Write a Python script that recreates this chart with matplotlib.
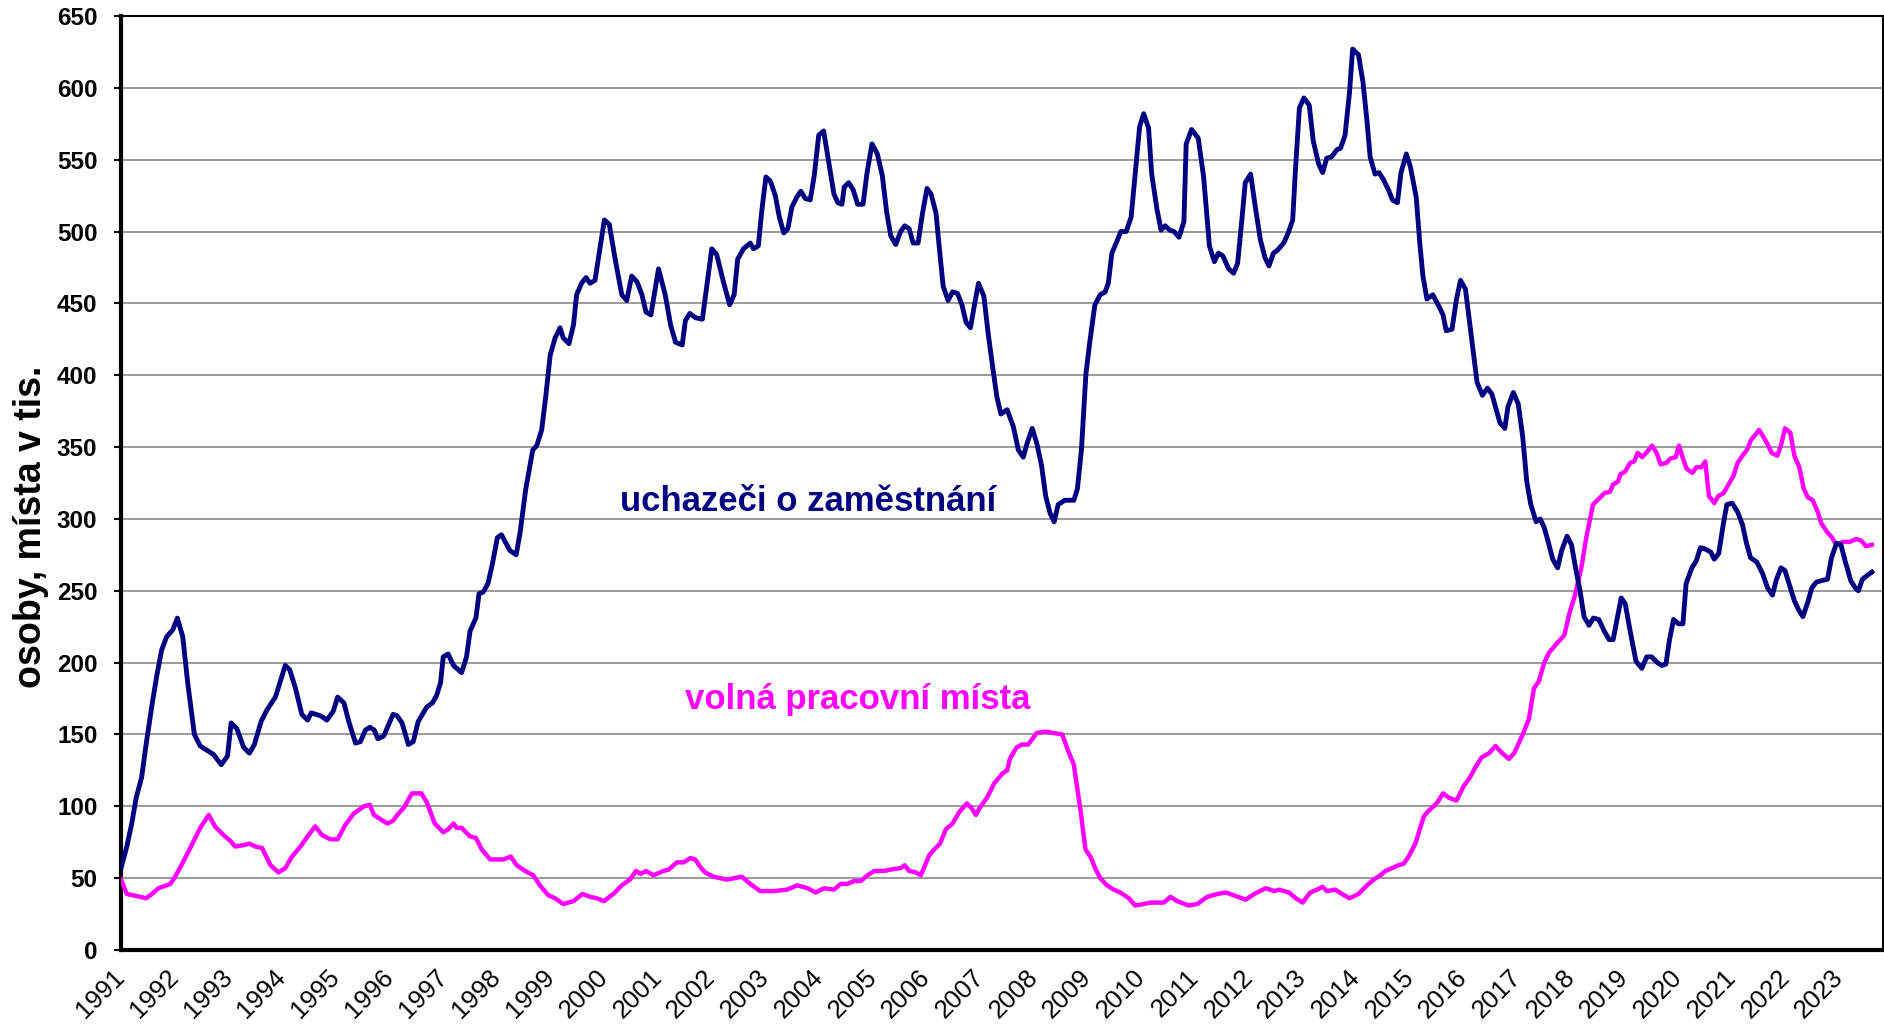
import matplotlib
matplotlib.use("Agg")
from matplotlib import pyplot as plt

# x = months since Jan 1991, values in thousands
ucha_m = [0, 1.3, 2.4, 3.4, 4.6, 5.7, 6.9, 8, 9.1, 10.2, 11.6, 12.6, 13.8, 14.9, 16.4, 17.7, 19.2, 20.7, 22.4, 23.8,
          24.6, 25.9, 27.4, 28.7, 29.8, 31.3, 32.6, 34.5, 36.7, 37.7, 39, 40.4, 41.7, 42.5, 44.6, 46, 47.4, 48.4,
          49.8, 50.9, 52.4, 53.5, 54.6, 55.6, 56.6, 57.4, 58.7, 60.8, 61.7, 62.8, 64.2, 65.3, 66.4, 68.3, 69.6,
          70.5, 71.4, 72, 73.1, 74.3, 76.1, 77.2, 78, 79.3, 80, 80.9, 82, 83, 84.1, 85, 86.9, 88.3, 89.2, 90.4,
          92, 92.9, 94, 94.9, 95.9, 97, 98.1, 98.8, 100.1, 101.1, 101.8, 102.9, 103.9, 104.8, 105.9, 107, 108,
          109.1, 110.4, 111.9, 113, 114.1, 115.3, 116.4, 117.3, 118.4, 120.1, 121.6, 122.8, 123.9, 125.4, 126.1,
          127.1, 128.4, 129.9, 132, 133.1, 134.6, 136, 137, 137.8, 139.1, 140.6, 141.3, 142.4, 143.2, 144.1,
          145.1, 146.2, 147.1, 148.1, 149, 149.9, 151, 151.9, 152.9, 154, 154.9, 155.9, 157, 158.1, 159.3, 160.2,
          161.1, 161.6, 162.6, 163.6, 164.6, 165.8, 166.7, 167.8, 169, 170.1, 171.1, 172, 173.1, 174.2, 175.1,
          176.1, 177, 178.1, 179.1, 180.1, 181, 182.1, 182.8, 183.7, 184.8, 185.8, 186.9, 187.9, 188.8, 189.8,
          190.7, 191.6, 192.8, 193.8, 194.8, 195.7, 196.6, 198, 199.4, 200.5, 201.6, 202.5, 203.6, 204.6, 205.7,
          206.6, 207.6, 208.5, 209.4, 210.9, 212, 212.9, 213.7, 214.6, 215.6, 216.5, 217.6, 218.8, 219.9, 220.6,
          221.4, 222.5, 223.4, 224.6, 225.7, 226.6, 227.6, 228.5, 229.6, 230.3, 231.5, 232.4, 233.3, 234.3, 235.3,
          236.4, 237.5, 238, 239.2, 240.7, 241.9, 243.2, 244.3, 245.2, 246.2, 247.5, 248.6, 249.5, 250.5, 251.2,
          252.4, 253.5, 254.6, 255.6, 256.5, 257.5, 258.4, 259.8, 260.8, 261.8, 262.4, 263.3, 264.3, 265.5, 266.4,
          267.6, 268.5, 269.4, 270.5, 271.7, 272.5, 273.5, 274.5, 275.2, 276.5, 277.5, 278.4, 279.1, 280.2, 281.1,
          282.1, 283.2, 284.1, 285.2, 286, 287.2, 288.1, 289.4, 290.2, 290.9, 291.8, 293.1, 294.3, 295.4, 296.1,
          297.4, 298.4, 299.3, 300.4, 301.4, 302.3, 303, 304.2, 305.3, 306.3, 307.3, 308.1, 309.2, 309.9, 311.1,
          312.2, 313.2, 314.1, 315, 316.2, 317.1, 318, 318.9, 319.9, 321, 321.9, 323.1, 324.1, 325, 326, 326.9,
          328, 329, 330.2, 331.4, 332.5, 333.4, 334.4, 335.2, 336.1, 337.2, 338.5, 339.8, 340.9, 342, 343.3,
          344.3, 345.2, 346, 346.9, 348, 349, 349.7, 351, 352, 352.9, 354, 355.2, 356, 357, 358, 358.8, 360,
          361.2, 362.3, 363.2, 364.1, 365.5, 366.8, 367.9, 369, 369.8, 370.9, 371.8, 372.8, 373.9, 374.8, 375.8,
          376.9, 377.8, 378.8, 379.9, 381.3, 382.2, 383.3, 384.3, 385.3, 386.5, 387.5, 388.2, 389.1, 390.3, 391.2]
ucha_v = [57, 72, 88, 106, 120, 145, 170, 191, 209, 218, 223, 231, 218, 186, 150, 142, 139, 136, 129, 135,
          158, 154, 141, 137, 143, 159, 167, 176, 198, 195, 182, 164, 160, 165, 163, 160, 166, 176,
          172, 159, 144, 145, 153, 155, 153, 147, 149, 164, 163, 158, 143, 145, 159, 169, 172,
          177, 186, 204, 206, 198, 193, 204, 222, 231, 248, 249, 255, 269, 287, 289, 278, 275, 291, 320,
          348, 351, 362, 385, 414, 426, 433, 426, 422, 435, 456, 464, 468, 464, 466, 488, 508,
          505, 481, 456, 452, 469, 465, 456, 444, 442, 474, 456, 435, 423, 421, 438,
          443, 440, 439, 488, 484, 465, 449, 456, 481, 488, 492, 488, 490, 515, 538,
          535, 525, 510, 499, 502, 517, 524, 528, 523, 522, 539, 567, 570, 549, 526, 520,
          519, 531, 534, 529, 519, 519, 541, 561, 554, 539, 513, 497, 491, 500, 504,
          502, 492, 492, 513, 530, 526, 513, 490, 462, 452, 458, 457, 449, 437, 433,
          449, 464, 455, 428, 405, 385, 373, 376, 364, 348, 343, 353, 363, 353, 337,
          316, 304, 298, 310, 313, 313, 313, 321, 348, 401, 424, 449, 456, 458, 464,
          485, 493, 500, 500, 510, 540, 573, 582, 572, 540, 515, 501, 504, 501, 500,
          496, 507, 561, 571, 565, 538, 490, 479, 485, 483, 474, 471, 478, 510, 534,
          540, 516, 494, 482, 476, 485, 487, 492, 499, 508, 542, 586, 593, 588, 563,
          547, 541, 551, 552, 557, 558, 567, 597, 627, 623, 604, 577, 552, 540, 541,
          536, 529, 522, 520, 541, 554, 545, 524, 492, 469, 453, 456, 449, 442, 431,
          432, 453, 466, 460, 435, 412, 395, 386, 391, 387, 376, 367, 363, 378, 388,
          380, 357, 326, 310, 298, 300, 294, 284, 272, 266, 278, 288, 282, 266, 250, 232,
          226, 231, 230, 222, 216, 216, 232, 245, 241, 222, 201, 196, 204, 204, 200,
          198, 199, 216, 230, 227, 227, 255, 266, 271, 280, 279, 277, 272, 276, 296, 310, 311,
          305, 296, 283, 273, 270, 262, 252, 247, 257, 266, 264, 254, 243, 237, 232,
          242, 252, 256, 257, 258, 273, 283, 282, 270, 257, 252, 250, 258, 261, 263]

volna_m = [0, 1.3, 2.8, 4.3, 5.6, 6.9, 8.4, 11, 12.1, 14, 15.8, 17.7, 19.6, 21, 22.9, 24.4, 25.5, 27.4, 28.7,
           30, 31.5, 33.4, 35.2, 36.7, 38.2, 40.1, 41.9, 43.4, 44.9, 46.8, 48.4, 50.1, 52, 54.3, 55.6, 56.5, 58,
           59.5, 60.8, 62, 63.2, 65, 67.1, 68.3, 70.1, 72, 73.1, 74.3, 75, 76.1, 78, 79.3, 80.6, 82.5, 85.4, 87.1,
           88.4, 90.3, 92.1, 93.6, 95.5, 97, 98.8, 101.1, 103.1, 104.8, 106.3, 107.9, 110, 111.9, 113.7, 115.1,
           116.1, 117.3, 119, 121.2, 122.4, 124.2, 125.7, 127.2, 128.3, 129.4, 130.5, 132.4, 135.4, 138.7, 140.6,
           142.8, 145.9, 148.8, 151.1, 153.4, 155.2, 157.1, 159.3, 160.8, 162.3, 163.8, 165.3, 166.8, 168.3, 170.5,
           172, 174.2, 175.1, 176.1, 177.6, 178.7, 180.6, 181.7, 183, 184.3, 185.8, 187.3, 189, 190, 191, 192.1,
           193.5, 195.1, 197, 198, 198.6, 200.1, 201.3, 202.7, 204.6, 206.5, 208.4, 210.3, 211.7, 212.9, 214.4,
           215.5, 216.6, 217.8, 218.8, 220.3, 221.8, 223.3, 225.2, 226.6, 228.5, 230, 233, 234.5, 236, 238.5,
           240.5, 242.7, 245, 246.9, 248.7, 251.3, 253.2, 255.8, 257.7, 258.8, 261, 262.5, 264, 265.7, 267.2,
           268.5, 269.4, 271.3, 272.8, 274.5, 276.5, 278.4, 279.9, 281.4, 282.5, 284, 285.4, 286.6, 287.7, 289.2,
           291.1, 292.2, 293.3, 294.2, 295.4, 296.7, 298.4, 300, 301.2, 302.6, 304, 305.7, 307.1, 308.6, 310.1,
           311.3, 313.2, 314.6, 315.7, 316.8, 318, 319.1, 321, 322.5, 323.6, 324.8, 326.3, 327.4, 328.9, 330.2,
           331.5, 332.7, 333.4, 334.5, 335, 336.1, 337.2, 338.1, 338.9, 339.9, 340.8, 342.1, 343.1, 344, 345.3,
           346.2, 347.4, 348.1, 348.8, 349.8, 351.1, 352, 353.1, 354, 354.8, 356, 356.9, 358.1, 359, 360.3, 361.2,
           362.3, 363.3, 364.2, 365.3, 366, 367, 367.9, 368.8, 370.1, 370.9, 371.8, 373, 373.9, 375, 376, 376.9,
           378, 379.1, 379.9, 381.2, 382.3, 383.3, 384.7, 386.2, 387.7, 388.8, 389.9, 391.2]
volna_v = [49, 39, 38, 37, 36, 39, 43, 46, 51, 62, 73, 85, 94, 86, 80, 76, 72, 73, 74,
           72, 71, 59, 54, 57, 65, 72, 80, 86, 80, 77, 77, 87, 95, 100, 101, 94, 91,
           88, 90, 95, 99, 109, 109, 103, 88, 82, 84, 88, 85, 85, 79, 78, 70, 63, 63, 65,
           59, 55, 52, 45, 38, 36, 32, 34, 39, 37, 36, 34, 39, 45, 49, 55,
           53, 55, 52, 55, 56, 61, 61, 64, 63, 58, 54, 51, 49, 51, 46,
           41, 41, 42, 45, 43, 40, 43, 42, 46, 46, 48, 48, 52, 55, 55,
           56, 57, 59, 55, 54, 52, 66, 70, 74, 84, 88, 96, 102, 99, 94, 100,
           106, 116, 123, 125, 133, 141, 143, 143, 151, 152, 151, 150, 138, 129, 97,
           70, 65, 56, 50, 45, 42, 40, 36, 31, 32, 33, 33, 37, 34, 31,
           32, 37, 39, 40, 38, 35, 39, 43, 41, 42, 40, 36, 33, 40, 42,
           44, 41, 42, 39, 36, 39, 45, 49, 52, 55, 57, 59, 60, 65, 74,
           93, 97, 100, 103, 109, 106, 104, 114, 119, 127, 134, 137, 142, 137, 133,
           137, 150, 161, 182, 187, 200, 207, 214, 219, 234, 246, 266, 287, 310, 314,
           318, 319, 324, 326, 331, 333, 339, 340, 346, 343, 346, 351, 346, 338, 339,
           342, 343, 351, 344, 335, 332, 336, 336, 340, 316, 311, 316, 318, 323, 330, 339,
           344, 348, 355, 359, 362, 357, 352, 346, 344, 351, 363, 360, 344, 336, 321, 315,
           313, 305, 297, 291, 287, 282, 284, 284, 286, 285, 281, 282]

years = list(range(1991, 2024))
y_ticks = list(range(0, 651, 50))

plt.rcParams['font.family'] = ['Liberation Sans', 'DejaVu Sans']

fig = plt.figure(figsize=(18.84, 10.27), dpi=100)
ax = fig.add_axes([121 / 1884, 1 - 950 / 1027, 1762 / 1884, 934 / 1027])

ax.plot(volna_m, volna_v, color='#ff00ff', lw=3.2, solid_joinstyle='round', zorder=3)
ax.plot(ucha_m, ucha_v, color='#000080', lw=3.5, solid_joinstyle='round', zorder=4)

ax.set_xlim(0, 393.7)
ax.set_ylim(0, 650)

# grid and axes
ax.set_yticks(y_ticks)
ax.set_yticklabels([str(v) for v in y_ticks], fontsize=17.5, fontweight='bold')
ax.yaxis.grid(True, color='#808080', lw=1.1)
ax.set_axisbelow(True)
ax.tick_params(axis='y', length=5, width=1.5, pad=12)

# year labels, rotated like the Excel original
ax.set_xticks([12 * (y - 1991) for y in years])
ax.set_xticklabels([str(y) for y in years], fontsize=18.5, rotation=45,
                   ha='right', va='center', rotation_mode='anchor')
ax.tick_params(axis='x', length=0, pad=17)

for side in ['left', 'bottom']:
    ax.spines[side].set_linewidth(3)
for side in ['top', 'right']:
    ax.spines[side].set_linewidth(1.5)

# axis title sits a bit below the axis centre, like in the original
fig.text(31 / 1884, 1 - 527 / 1027, 'osoby, místa v tis.', rotation=90,
         fontsize=27, fontweight='bold', ha='center', va='center')

# series labels
ax.text(111.5, 312, 'uchazeči o zaměstnání', color='#000080', fontsize=25,
        fontweight='bold', va='center', ha='left')
ax.text(126, 174, 'volná pracovní místa', color='#ff00ff', fontsize=25,
        fontweight='bold', va='center', ha='left')

fig.savefig('out.png', dpi=100)
